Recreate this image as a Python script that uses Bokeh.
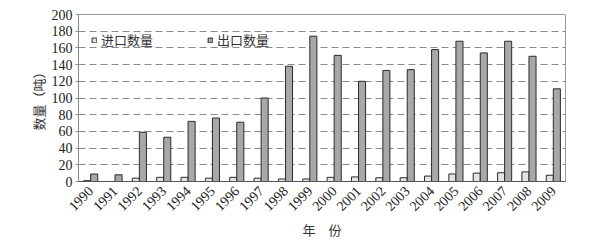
import math
from bokeh.plotting import figure
from bokeh.models import ColumnDataSource, FactorRange, Legend, LegendItem, FixedTicker
from bokeh.transform import dodge
from bokeh.embed import file_html
from bokeh.resources import INLINE

years = [str(y) for y in range(1990, 2010)]
imports = [1, 0, 4, 5, 5, 4, 5, 4, 3, 3, 5, 5.5, 4.5, 4.5, 6.5, 9, 10, 10.5, 11.5, 7.5]
exports = [9, 8, 59, 53, 72, 76, 71, 100, 138, 174, 151, 120, 133, 134, 158, 168, 154, 168, 150, 111]
y_ticks = list(range(0, 201, 20))

src = ColumnDataSource(dict(year=years, imp=imports, exp=exports))

p = figure(width=600, height=242, x_range=FactorRange(*years), y_range=(0, 200),
           output_backend="svg", toolbar_location=None,
           min_border_left=78, min_border_right=35, min_border_top=14, min_border_bottom=60)
p.outline_line_color = "#9a9a9a"
p.background_fill_color = "white"
p.border_fill_color = "white"

w = 0.29
r1 = p.vbar(x=dodge("year", -w / 2, range=p.x_range), top="imp", width=w, source=src,
            fill_color="#e4e4e4", line_color="#2b2b2b", line_width=1)
r2 = p.vbar(x=dodge("year", w / 2, range=p.x_range), top="exp", width=w, source=src,
            fill_color="#a8a8a8", line_color="#2b2b2b", line_width=1)

p.xgrid.grid_line_color = None
p.ygrid.grid_line_color = "#8a8a8a"
p.ygrid.grid_line_dash = "7 4"
p.ygrid.grid_line_width = 1
p.yaxis.ticker = FixedTicker(ticks=y_ticks)

serif = "Liberation Serif"
cjk = "Noto Sans CJK SC"

p.yaxis.axis_line_color = "#8a8a8a"
p.yaxis.major_tick_line_color = "#8a8a8a"
p.yaxis.major_tick_out = 3
p.yaxis.major_tick_in = 0
p.yaxis.minor_tick_line_color = None
p.yaxis.major_label_text_font = serif
p.yaxis.major_label_text_font_size = "14px"
p.yaxis.major_label_text_color = "#222222"
p.yaxis.major_label_standoff = 3
p.yaxis.axis_label = "数量（吨）"
p.yaxis.axis_label_text_font = cjk
p.yaxis.axis_label_text_font_style = "normal"
p.yaxis.axis_label_text_font_size = "13px"
p.yaxis.axis_label_text_color = "#333333"
p.yaxis.axis_label_standoff = 1

p.xaxis.axis_line_color = "#555555"
p.xaxis.major_tick_line_color = None
p.xaxis.major_label_orientation = math.pi / 4
p.xaxis.major_label_text_font = serif
p.xaxis.major_label_text_font_size = "14px"
p.xaxis.major_label_text_color = "#222222"
p.xaxis.major_label_standoff = 1
p.xaxis.axis_label = "年\u3000份"
p.xaxis.axis_label_text_font = cjk
p.xaxis.axis_label_text_font_style = "normal"
p.xaxis.axis_label_text_font_size = "13px"
p.xaxis.axis_label_text_color = "#333333"
p.xaxis.axis_label_standoff = 2
p.x_range.range_padding = 0
p.x_range.group_padding = 0

legend = Legend(items=[LegendItem(label="进口数量", renderers=[r1]),
                       LegendItem(label="出口数量", renderers=[r2])],
                orientation="horizontal", location=(13, 132),
                glyph_width=6, glyph_height=6, label_standoff=4, spacing=54,
                padding=0, margin=0, border_line_color=None,
                background_fill_alpha=0,
                label_text_font=cjk, label_text_font_size="13px",
                label_text_color="#333333")
p.add_layout(legend, "center")

open("out.html", "w").write(file_html(p, INLINE))
